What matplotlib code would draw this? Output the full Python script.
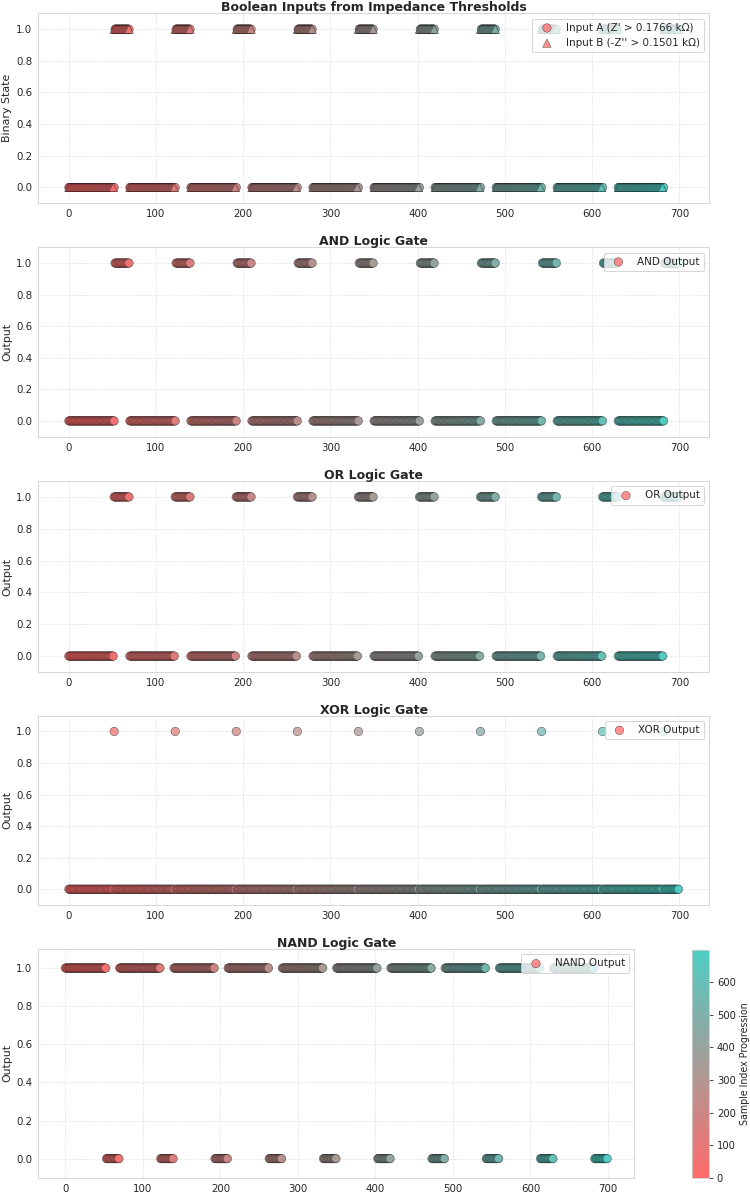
import numpy as np
import matplotlib
matplotlib.use('Agg')
import matplotlib.pyplot as plt
import seaborn as sns
from matplotlib.colors import LinearSegmentedColormap

### Data
n_samples = 700
# windows (inclusive sample index) where each input is high
a_high_start = [53, 123, 193, 263, 333, 403, 473, 543, 613, 683]
a_high_end = [69, 139, 209, 279, 349, 419, 489, 559, 629, 699]
b_high_start = [52, 122, 192, 262, 332, 402, 472, 542, 612, 682]
b_high_end = [69, 139, 209, 279, 349, 419, 489, 559, 629, 699]

label_a = "Input A (Z' > 0.1766 k\u03a9)"
label_b = "Input B (-Z'' > 0.1501 k\u03a9)"
gate_names = ['AND', 'OR', 'XOR', 'NAND']
x_ticks = [0, 100, 200, 300, 400, 500, 600, 700]
y_ticks = [0.0, 0.2, 0.4, 0.6, 0.8, 1.0]

idx = np.arange(n_samples)
input_a = np.zeros(n_samples, dtype=int)
input_b = np.zeros(n_samples, dtype=int)
for s, e in zip(a_high_start, a_high_end):
    input_a[s:e + 1] = 1
for s, e in zip(b_high_start, b_high_end):
    input_b[s:e + 1] = 1

gates = {
    'AND': input_a & input_b,
    'OR': input_a | input_b,
    'XOR': input_a ^ input_b,
    'NAND': 1 - (input_a & input_b),
}

### Style
sns.set_style('whitegrid')
plt.rcParams['font.family'] = ['DejaVu Sans']
plt.rcParams['axes.edgecolor'] = '#cccccc'
plt.rcParams['text.color'] = '#262626'
plt.rcParams['xtick.color'] = '#262626'
plt.rcParams['ytick.color'] = '#262626'

cmap = LinearSegmentedColormap.from_list('imp', ['#FF6B6B', '#4ECDC4'])
W, H = 750, 1194
fig = plt.figure(figsize=(W / 72, H / 72), dpi=72)


def px_axes(l, t, r, b):
    return fig.add_axes([l / W, 1 - b / H, (r - l) / W, (b - t) / H])


def style_ax(ax, title, ylabel):
    ax.set_title(title, fontsize=12.5, fontweight='bold', pad=2)
    ax.set_ylabel(ylabel, fontsize=11)
    ax.set_xlim(-35, 734)
    ax.set_ylim(-0.1, 1.1)
    ax.set_xticks(x_ticks)
    ax.set_yticks(y_ticks)
    ax.tick_params(labelsize=10.3, length=0, pad=6)
    ax.grid(True, linestyle='--', alpha=0.5)
    for sp in ax.spines.values():
        sp.set_color('#cccccc')
    ax.legend(loc='upper right', fontsize=10.4, framealpha=0.8)


kw = dict(c=idx, cmap=cmap, vmin=0, vmax=n_samples - 1, s=72, alpha=0.75,
          edgecolors='black', linewidths=0.4)

boxes = [(38.3, 13.3, 709, 203.3),
         (38.3, 247.3, 709, 436.7),
         (38.3, 481, 709, 672),
         (38.3, 715.7, 709, 905),
         (38.3, 949, 634.3, 1177.7)]

# Inputs panel
ax = px_axes(*boxes[0])
ax.scatter(idx, input_a, marker='o', label=label_a, **kw)
ax.scatter(idx, input_b, marker='^', label=label_b, **kw)
style_ax(ax, 'Boolean Inputs from Impedance Thresholds', 'Binary State')

sc = None
for i, name in enumerate(gate_names):
    ax = px_axes(*boxes[i + 1])
    sc = ax.scatter(idx, gates[name], marker='o', label=name + ' Output', **kw)
    style_ax(ax, name + ' Logic Gate', 'Output')

cax = px_axes(691.7, 950, 709.3, 1177.7)
cb = fig.colorbar(sc, cax=cax)
cb.solids.set_alpha(1)
cb.set_label('Sample Index Progression', fontsize=9.5)
cb.ax.tick_params(labelsize=10, length=4, width=0.8, color='#262626')
cb.outline.set_edgecolor('#cccccc')

fig.savefig('out.png', dpi=72)
